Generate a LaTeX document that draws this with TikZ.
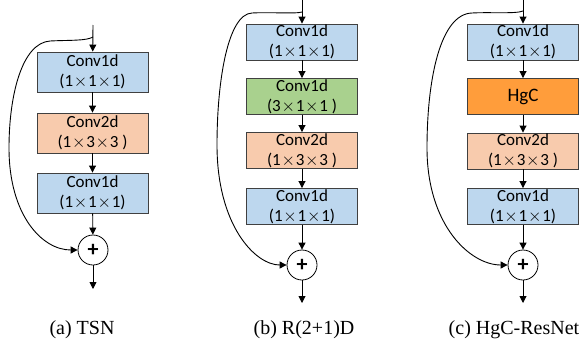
\documentclass[tikz,border=0pt]{standalone}
\usepackage{fontspec}
\setmainfont{Liberation Serif}
\newfontfamily\boxfont{Carlito}
\usetikzlibrary{arrows.meta}
\definecolor{cblue}{HTML}{BDD7EE}
\definecolor{corl}{HTML}{F8CBAD}
\definecolor{cgreen}{HTML}{A9D18E}
\definecolor{corange}{HTML}{FF9D3B}
\definecolor{cedge}{HTML}{404040}
\newcommand\mul{\makebox[15pt]{\fontsize{17}{17}\selectfont$\times$}}
\begin{document}
\begin{tikzpicture}[x=1pt,y=-1pt,
  blk/.style={draw=cedge, line width=0.9pt, minimum width=111pt, inner sep=0pt, align=center,
    font=\boxfont\fontsize{17}{20}\selectfont},
  arr/.style={-{Triangle[width=7pt,length=7pt]}, line width=0.9pt, black},
  sum/.style={circle, draw=black, line width=0.8pt, minimum size=30pt, inner sep=0pt,
    font=\boxfont\bfseries\fontsize{22}{22}\selectfont},
  captxt/.style={font=\fontsize{20}{22}\selectfont}]
\useasboundingbox (0,0) rectangle (580,348);

% ---------- (a) TSN ----------
\coordinate (at) at (93,25);
\coordinate (as) at (93,37);
\node[blk, fill=cblue, minimum height=40pt] (a1) at (92.5,72) {Conv1d\\(1\mul1\mul1)};
\node[blk, fill=corl, minimum height=40pt] (a2) at (92.5,133) {Conv2d\\(1\mul3\mul3 )};
\node[blk, fill=cblue, minimum height=40pt] (a3) at (92.5,193) {Conv1d\\(1\mul1\mul1)};
\node[sum] (ac) at (93,250) {+};
\coordinate (ae) at (93,289);
\draw[arr] (at) -- (a1);
\draw[arr] (a1) -- (a2);
\draw[arr] (a2) -- (a3);
\draw[arr] (a3) -- (ac);
\draw[arr] (ac) -- (ae);
\draw[arr] (as) .. controls (86,41) and (70,40) .. (50,41)
  .. controls (22,43) and (9,95) .. (9,148)
  .. controls (9,215) and (42,250) .. (ac.west);
\node[captxt] (acap) at (82,330) {(a) TSN};

% ---------- (b) R(2+1)D ----------
\coordinate (bt) at (302,0);
\coordinate (bs) at (302,12);
\node[blk, fill=cblue, minimum height=36pt] (b1) at (302,42) {Conv1d\\(1\mul1\mul1)};
\node[blk, fill=cgreen, minimum height=36pt] (b2) at (302,96.5) {Conv1d\\(3\mul1\mul1 )};
\node[blk, fill=corl, minimum height=36pt] (b3) at (302,150.5) {Conv2d\\(1\mul3\mul3 )};
\node[blk, fill=cblue, minimum height=36pt] (b4) at (302,206.5) {Conv1d\\(1\mul1\mul1)};
\node[sum] (bc) at (302,265) {+};
\coordinate (be) at (302,303);
\draw[arr] (bt) -- (b1);
\draw[arr] (b1) -- (b2);
\draw[arr] (b2) -- (b3);
\draw[arr] (b3) -- (b4);
\draw[arr] (b4) -- (bc);
\draw[arr] (bc) -- (be);
\draw[arr] (bs) .. controls (296,14) and (270,12) .. (252,13)
  .. controls (228,14) and (217,80) .. (217,145)
  .. controls (217,225) and (255,265) .. (bc.west);
\node[captxt] (bcap) at (304,330) {(b) R(2+1)D};

% ---------- (c) HgC-ResNet ----------
\coordinate (ct) at (523,0);
\coordinate (cs) at (523,11);
\node[blk, fill=cblue, minimum height=36pt] (c1) at (523,42) {Conv1d\\(1\mul1\mul1)};
\node[blk, fill=corange, minimum height=36pt, font=\boxfont\fontsize{19}{20}\selectfont] (c2) at (523,96.5) {HgC};
\node[blk, fill=corl, minimum height=36pt] (c3) at (523,151) {Conv2d\\(1\mul3\mul3 )};
\node[blk, fill=cblue, minimum height=36pt] (c4) at (523,206.5) {Conv1d\\(1\mul1\mul1)};
\node[sum] (cc) at (523,265) {+};
\coordinate (ce) at (523,303);
\draw[arr] (ct) -- (c1);
\draw[arr] (c1) -- (c2);
\draw[arr] (c2) -- (c3);
\draw[arr] (c3) -- (c4);
\draw[arr] (c4) -- (cc);
\draw[arr] (cc) -- (ce);
\draw[arr] (cs) .. controls (516,14) and (490,12) .. (472,13)
  .. controls (440,14) and (427,80) .. (427,148)
  .. controls (427,225) and (470,265) .. (cc.west);
\node[captxt] (ccap) at (514,330) {(c) HgC-ResNet};
\end{tikzpicture}
\end{document}
